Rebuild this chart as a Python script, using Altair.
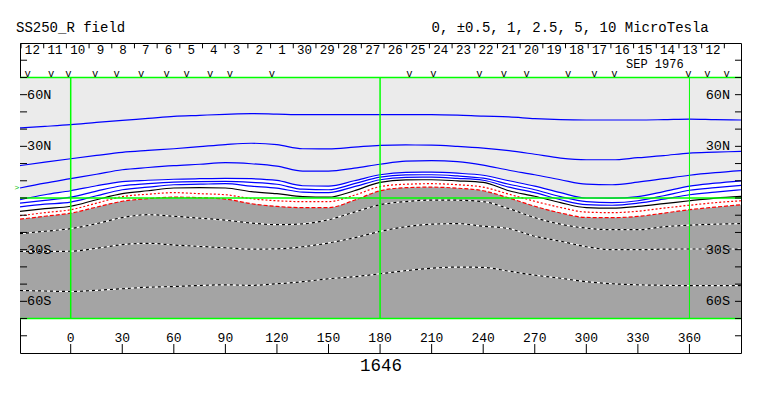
import altair as alt
import pandas as pd

# ---------------- data ----------------
lon = [-29.5, -15, 0, 15, 30, 45, 60, 75, 90, 105, 120, 135, 150, 165, 180, 195,
       210, 225, 240, 255, 270, 285, 300, 315, 330, 345, 360, 375, 390]

# positive contours (blue)
b1 = [40.7, 41.6, 42.6, 43.9, 45.1, 46.2, 47.4, 48.0, 48.6, 49.0, 48.7, 48.4, 48.4, 48.4, 48.4, 48.4,
      48.4, 48.1, 47.5, 47.1, 46.1, 45.5, 45.3, 45.3, 45.3, 45.5, 45.8, 45.5, 45.3]
b2 = [18.8, 20.8, 22.8, 24.7, 26.5, 27.6, 28.6, 29.8, 31.0, 31.8, 31.0, 28.6, 28.5, 29.5, 30.6, 30.8,
      30.7, 30.0, 29.0, 27.5, 25.4, 23.2, 22.2, 22.2, 23.4, 24.6, 26.1, 26.6, 27.1]
b3 = [5.8, 8.6, 11.2, 13.8, 16.4, 17.7, 18.8, 19.6, 20.5, 19.9, 18.5, 15.6, 15.6, 17.3, 19.6, 21.4,
      21.7, 21.1, 19.1, 16.1, 13.5, 10.6, 8.0, 7.7, 9.2, 11.2, 13.2, 14.7, 15.9]
b4 = [-1.0, 1.9, 4.2, 7.1, 9.5, 10.3, 10.9, 11.2, 11.4, 11.2, 10.2, 7.1, 6.9, 10.0, 13.5, 14.9,
      15.0, 14.4, 13.2, 10.0, 6.9, 3.1, 0.0, -0.1, 0.8, 3.7, 6.9, 8.6, 10.0]
b5 = [-3.0, -1.4, 0.5, 4.0, 7.1, 8.3, 9.2, 9.5, 9.6, 9.1, 8.0, 5.1, 4.8, 8.3, 12.1, 13.4,
      13.5, 12.8, 11.5, 8.0, 4.8, 0.8, -2.1, -2.7, -1.6, 1.3, 4.5, 6.0, 7.3]
b6 = [-5.1, -3.6, -2.4, 1.3, 4.8, 6.3, 7.7, 8.0, 8.3, 6.9, 5.7, 3.4, 3.1, 6.6, 10.6, 12.0,
      12.1, 11.4, 10.3, 6.3, 3.1, -1.0, -3.9, -4.2, -3.0, -0.7, 1.9, 3.4, 4.8]
# neutral line (black)
k0 = [-7.8, -6.2, -4.8, -1.0, 2.5, 4.2, 5.8, 6.0, 5.8, 3.7, 2.5, 0.8, 0.5, 4.2, 9.1, 10.5,
      10.6, 10.0, 9.1, 4.2, 1.0, -2.7, -5.6, -5.9, -4.9, -3.3, -1.6, -0.1, 0.9]
# negative contours (red dashed)
r1 = [-10.3, -8.5, -6.8, -3.0, 0.8, 2.2, 3.1, 2.5, 1.9, -0.4, -1.6, -2.1, -2.1, 1.6, 6.6, 8.0,
      8.3, 7.7, 6.3, 2.2, -1.9, -5.5, -8.2, -8.5, -7.7, -5.9, -4.2, -2.7, -1.6]
r2 = [-12.3, -10.6, -8.8, -5.3, -1.9, -0.4, 0.5, 0.2, -0.6, -3.3, -4.9, -5.6, -5.6, -1.3, 4.2, 6.0,
      6.3, 5.7, 4.2, 0.0, -4.8, -8.7, -11.3, -11.4, -10.7, -8.8, -6.8, -5.3, -3.9]
# negative contours inside the dark region (black/white dashed)
d1 = [-20.7, -19.3, -17.8, -14.9, -11.4, -9.7, -10.6, -11.7, -12.9, -14.5, -15.5, -15.0, -12.6, -8.2, -3.9, -2.1,
      -1.2, -1.3, -2.1, -6.2, -11.4, -15.2, -17.5, -18.4, -18.4, -16.7, -15.8, -15.2, -14.9]
d2 = [-31.0, -31.0, -30.9, -29.2, -27.1, -26.3, -27.3, -28.1, -28.9, -29.7, -29.5, -28.3, -26.1, -23.1, -19.4, -16.7,
      -15.2, -14.9, -16.4, -17.8, -22.2, -25.1, -28.3, -30.0, -30.0, -29.7, -29.6, -29.6, -29.6]
d3 = [-53.7, -54.0, -54.3, -53.6, -52.7, -51.8, -51.4, -50.8, -50.4, -50.7, -49.8, -48.6, -46.9, -45.7, -44.0, -42.2,
      -40.8, -40.1, -40.3, -42.5, -44.8, -46.6, -48.6, -49.8, -50.4, -50.7, -50.9, -50.9, -50.9]

# axis ticks and labels
lon_ticks = [0, 30, 60, 90, 120, 150, 180, 210, 240, 270, 300, 330, 360]
lat_ticks = [-80, -70, -60, -50, -40, -30, -20, -10, 0, 10, 20, 30, 40, 50, 60, 70, 80]
lat_label_vals = [60, 30, -30, -60]
lat_label_txt = ["60N", "30N", "30S", "60S"]

# day-of-month row (time runs right to left)
day_labels = ["12", "11", "10", "9", "8", "7", "6", "5", "4", "3", "2", "1", "30", "29", "28", "27",
              "26", "25", "24", "23", "22", "21", "20", "19", "18", "17", "16", "15", "14", "13", "12"]
day_centers = [-22.3, -9.1, 4.1, 17.3, 30.5, 43.7, 56.9, 70.1, 83.3, 96.5, 109.7, 122.9, 136.1, 149.3,
               162.5, 175.7, 188.9, 202.1, 215.3, 228.5, 241.7, 254.9, 268.1, 281.3, 294.5, 307.7,
               320.9, 334.1, 347.3, 360.5, 373.7]
day_bounds = [-28.9, -15.7, -2.5, 10.7, 23.9, 37.1, 50.3, 63.5, 76.7, 89.9, 103.1, 116.3, 129.5, 142.7,
              155.9, 169.1, 182.3, 195.5, 208.7, 221.9, 235.1, 248.3, 261.5, 274.7, 287.9, 301.1,
              314.3, 327.5, 340.7, 353.9, 367.1, 380.3]
obs_marks = [-25.0, -11.4, -1.3, 14.2, 26.8, 41.0, 55.9, 67.5, 81.1, 92.7, 117.0, 197.0, 211.0,
             237.8, 252.1, 265.3, 289.5, 304.7, 316.3, 359.4, 370.4, 381.7]
green_v = [0, 180, 360]
green_v_w = [1.5, 1.5, 1.0]
green_h = [70, 0, -70]
b0_lat = [6.0]

# ---------------- chart ----------------
FONT = "Liberation Mono"
LON_MIN, LON_MAX = -29.5, 390
xs = alt.Scale(domain=[LON_MIN, LON_MAX], nice=False, zero=False)
ys = alt.Scale(domain=[-90, 90], nice=False, zero=False)


def X(f):
    return alt.X(f"{f}:Q", scale=xs, axis=None)


def Y(f):
    return alt.Y(f"{f}:Q", scale=ys, axis=None)


def XD(v):
    return alt.X(datum=v, scale=xs, axis=None)


def YD(v):
    return alt.Y(datum=v, scale=ys, axis=None)


df = pd.DataFrame({"lon": lon, "b1": b1, "b2": b2, "b3": b3, "b4": b4, "b5": b5, "b6": b6,
                   "k0": k0, "r1": r1, "r2": r2, "d1": d1, "d2": d2, "d3": d3})
base = alt.Chart(df)

layers = []
# plot background
layers.append(alt.Chart(pd.DataFrame({"a": [LON_MIN], "b": [LON_MAX], "c": [-70], "d": [70]}))
              .mark_rect(color="#EBEBEB")
              .encode(x=X("a"), x2="b:Q", y=Y("c"), y2="d:Q"))
# weak-field band
layers.append(base.mark_area(color="#FFFFFF", interpolate="monotone")
              .encode(x=X("lon"), y=Y("b4"), y2="r2:Q"))
# negative region
layers.append(base.mark_area(color="#A4A4A4", interpolate="monotone")
              .encode(x=X("lon"), y=Y("r2"), y2=alt.Y2(datum=-70)))

for f in ["d1", "d2", "d3"]:
    layers.append(base.mark_line(color="#FFFFFF", strokeWidth=1.2, interpolate="monotone")
                  .encode(x=X("lon"), y=Y(f)))
    layers.append(base.mark_line(color="#000000", strokeWidth=1.2, strokeDash=[3, 3],
                                 interpolate="monotone")
                  .encode(x=X("lon"), y=Y(f)))
for f in ["b1", "b2", "b3", "b4", "b5", "b6"]:
    layers.append(base.mark_line(color="#0000FF", strokeWidth=1.2, interpolate="monotone")
                  .encode(x=X("lon"), y=Y(f)))
layers.append(base.mark_line(color="#000000", strokeWidth=1.2, interpolate="monotone")
              .encode(x=X("lon"), y=Y("k0")))
layers.append(base.mark_line(color="#FF0000", strokeWidth=1.2, strokeDash=[2, 2],
                             interpolate="monotone")
              .encode(x=X("lon"), y=Y("r1")))
layers.append(base.mark_line(color="#FF0000", strokeWidth=1.2, strokeDash=[4, 2],
                             interpolate="monotone")
              .encode(x=X("lon"), y=Y("r2")))

# green reference lines
layers.append(alt.Chart(pd.DataFrame({"lon": green_v, "w": green_v_w}))
              .mark_rule(color="#00FF00")
              .encode(x=X("lon"), y=YD(70), y2=alt.Y2(datum=-70),
                      strokeWidth=alt.StrokeWidth("w:Q", scale=None)))
layers.append(alt.Chart(pd.DataFrame({"lat": green_h}))
              .mark_rule(color="#00FF00", strokeWidth=1.5)
              .encode(y=Y("lat"), x=XD(LON_MIN), x2=alt.X2(datum=LON_MAX)))

# latitude ticks, both sides
latdf = pd.DataFrame({"lat": lat_ticks})
layers.append(alt.Chart(latdf).mark_rule(color="black", strokeWidth=1)
              .encode(y=Y("lat"), x=XD(LON_MIN), x2=alt.X2(datum=-25.4)))
layers.append(alt.Chart(latdf).mark_rule(color="black", strokeWidth=1)
              .encode(y=Y("lat"), x=XD(386.5), x2=alt.X2(datum=LON_MAX)))
labdf = pd.DataFrame({"lat": lat_label_vals, "t": lat_label_txt})
layers.append(alt.Chart(labdf).mark_text(font=FONT, fontSize=13.5, align="left",
                                         baseline="alphabetic", dy=4, color="black")
              .encode(y=Y("lat"), x=XD(-25.4), text="t:N"))
layers.append(alt.Chart(labdf).mark_text(font=FONT, fontSize=13.5, align="right",
                                         baseline="alphabetic", dy=4, color="black")
              .encode(y=Y("lat"), x=XD(383.6), text="t:N"))

# longitude ticks and labels at bottom
londf = pd.DataFrame({"lon": lon_ticks, "t": [str(v) for v in lon_ticks]})
layers.append(alt.Chart(londf).mark_rule(color="black", strokeWidth=1)
              .encode(x=X("lon"), y=YD(-90), y2=alt.Y2(datum=-84.8)))
layers.append(alt.Chart(londf).mark_text(font=FONT, fontSize=13, align="center",
                                         baseline="alphabetic", color="black")
              .encode(x=X("lon"), y=YD(-83.4), text="t:N"))

# day row at top
layers.append(alt.Chart(pd.DataFrame({"lon": day_bounds}))
              .mark_rule(color="black", strokeWidth=1)
              .encode(x=X("lon"), y=YD(90), y2=alt.Y2(datum=86.9)))
layers.append(alt.Chart(pd.DataFrame({"lon": day_centers, "t": day_labels}))
              .mark_text(font=FONT, fontSize=12.5, align="center", baseline="alphabetic",
                         color="black")
              .encode(x=X("lon"), y=YD(83.6), text="t:N"))
layers.append(alt.Chart(pd.DataFrame({"lon": obs_marks, "t": ["v"] * len(obs_marks)}))
              .mark_text(font=FONT, fontSize=10.5, align="center", baseline="alphabetic",
                         color="black")
              .encode(x=X("lon"), y=YD(70.2), text="t:N"))

# B0 marker at left edge
layers.append(alt.Chart(pd.DataFrame({"lat": b0_lat, "t": [">"]}))
              .mark_text(font=FONT, fontSize=8, align="center", baseline="middle",
                         color="#00C000")
              .encode(x=alt.value(-3), y=Y("lat"), text="t:N"))


def label(txt, x, y, size, align="left"):
    return (alt.Chart(pd.DataFrame({"t": [txt]}))
            .mark_text(font=FONT, fontSize=size, align=align, baseline="alphabetic",
                       color="black")
            .encode(x=alt.value(x), y=alt.value(y), text="t:N"))


layers.append(label("SS250_R field", -4, -11, 14))
layers.append(label("0, \u00b10.5, 1, 2.5, 5, 10 MicroTesla", 411.5, -11, 14))
layers.append(label("SEP 1976", 606, 24.5, 12))
layers.append(label("1646", 361, 328, 17.5, align="center"))

chart = (alt.layer(*layers)
         .properties(width=721, height=310,
                     autosize=alt.AutoSizeParams(type="none"),
                     padding={"left": 12, "top": 35, "right": 5, "bottom": 30},
                     background="white")
         .configure_view(stroke="black", strokeWidth=1))

chart.save("out.html", embed_options={"renderer": "svg", "actions": False})
